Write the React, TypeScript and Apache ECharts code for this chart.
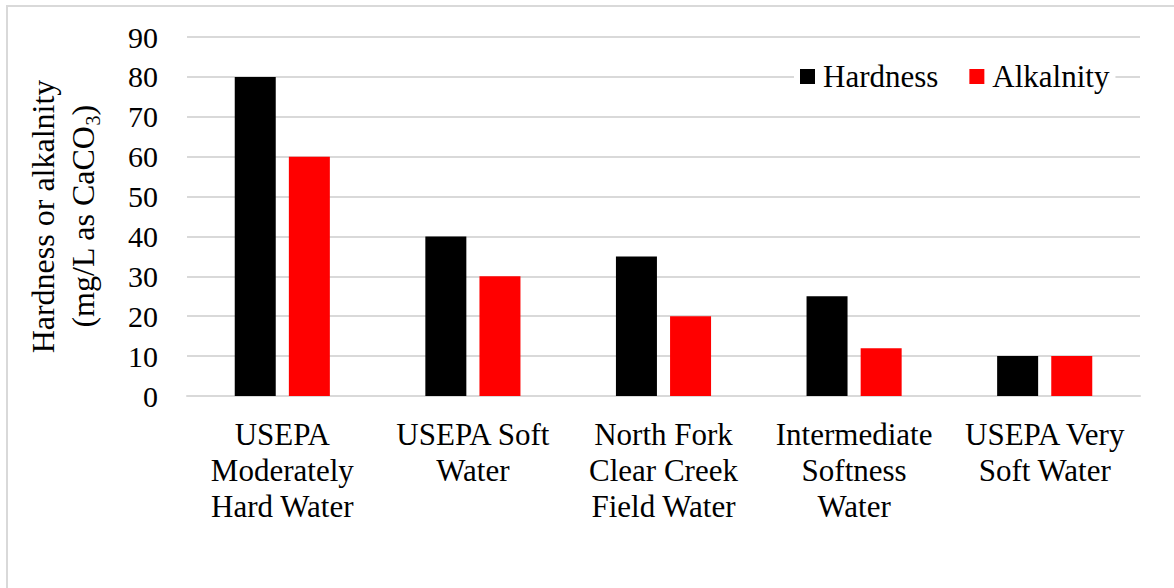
import { useEffect, useRef } from 'react';
import * as echarts from 'echarts';

const categories = [
  'USEPA\nModerately\nHard Water',
  'USEPA Soft\nWater',
  'North Fork\nClear Creek\nField Water',
  'Intermediate\nSoftness\nWater',
  'USEPA Very\nSoft Water',
];
const hardness = [80, 40, 35, 25, 10];
const alkalinity = [60, 30, 20, 12, 10];

const FONT = 'Liberation Serif';

export default function App() {
  const chartRef = useRef<HTMLDivElement>(null);

  useEffect(() => {
    if (!chartRef.current) return;
    const chart = echarts.init(chartRef.current, undefined, { renderer: 'svg' });
    chart.setOption({
      animation: false,
      backgroundColor: '#fff',
      textStyle: { fontFamily: FONT, color: '#000' },
      // outer chart border (only top/left visible in the crop)
      graphic: [
        {
          type: 'rect',
          shape: { x: 7, y: 6, width: 1300, height: 700 },
          style: { fill: 'none', stroke: '#d9d9d9', lineWidth: 2 },
          silent: true,
        },
      ],
      grid: { left: 187, right: 34, top: 37, bottom: 192 },
      legend: {
        left: 794,
        top: 58,
        itemWidth: 15,
        itemHeight: 15,
        itemGap: 31,
        backgroundColor: '#fff',
        padding: [3, 6],
        icon: 'rect',
        textStyle: { fontFamily: FONT, fontSize: 31, color: '#000', padding: [0, 0, 0, 3] },
        data: ['Hardness', 'Alkalnity'],
      },
      xAxis: {
        type: 'category',
        data: categories,
        axisLine: { lineStyle: { color: '#d9d9d9', width: 2 } },
        axisTick: { show: false },
        axisLabel: {
          interval: 0,
          fontFamily: FONT,
          fontSize: 31,
          lineHeight: 36,
          color: '#000',
          margin: 20,
        },
      },
      yAxis: {
        type: 'value',
        min: 0,
        max: 90,
        interval: 10,
        axisLine: { show: false },
        axisTick: { show: false },
        splitLine: { lineStyle: { color: '#d9d9d9', width: 2 } },
        axisLabel: { fontFamily: FONT, fontSize: 30, color: '#000', margin: 29 },
        name: '{a|Hardness or alkalnity}\n{a|(mg/L as CaCO}{sub|3}{a|)}',
        nameLocation: 'middle',
        nameGap: 84,
        nameTextStyle: {
          fontFamily: FONT,
          color: '#000',
          rich: {
            a: { fontFamily: FONT, fontSize: 32, lineHeight: 40, color: '#000' },
            sub: {
              fontFamily: FONT,
              fontSize: 20,
              lineHeight: 40,
              color: '#000',
              verticalAlign: 'bottom',
              padding: [12, 0, 0, 0],
            },
          },
        },
      },
      series: [
        {
          name: 'Hardness',
          type: 'bar',
          data: hardness,
          barWidth: 41,
          barGap: '32%',
          itemStyle: { color: '#000' },
        },
        {
          name: 'Alkalnity',
          type: 'bar',
          data: alkalinity,
          barWidth: 41,
          itemStyle: { color: '#ff0000' },
        },
      ],
    });
    return () => chart.dispose();
  }, []);

  return (
    <div
      ref={chartRef}
      style={{ position: 'fixed', left: 0, top: 0, width: 1174, height: 588 }}
    />
  );
}
